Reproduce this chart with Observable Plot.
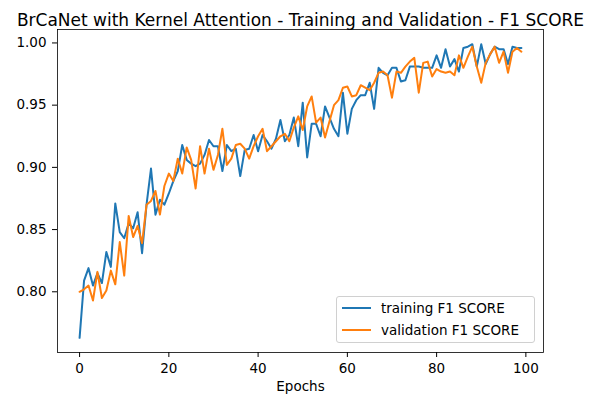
<!DOCTYPE html>
<html>
<head>
<meta charset="utf-8">
<script src="https://cdn.jsdelivr.net/npm/d3@7"></script>
<script src="https://cdn.jsdelivr.net/npm/@observablehq/plot@0.6"></script>
<style>
  html, body { margin: 0; padding: 0; background: #fff; }
  #wrap { position: relative; width: 591px; height: 402px; overflow: hidden; font-family: "DejaVu Sans", sans-serif; }
  #legend { position: absolute; left: 336px; top: 296px; width: 199px; height: 47px; box-sizing: border-box;
    border: 1px solid #d0d0d0; border-radius: 3px; background: rgba(255,255,255,0.8); }
  .entry { position: absolute; left: 0; height: 20px; font-size: 13.5px; color: #000; white-space: nowrap; }
  .entry .sw { position: absolute; left: 5px; top: 9px; width: 29px; height: 2px; }
  .entry .lb { position: absolute; left: 44px; top: 1px; line-height: 18px; }
</style>
</head>
<body>
<div id="wrap"></div>
<script>
const title = "BrCaNet with Kernel Attention - Training and Validation - F1 SCORE";
const xLabel = "Epochs";
const seriesNames = ["training F1 SCORE", "validation F1 SCORE"];
const seriesColors = ["#1f77b4", "#ff7f0e"];
const xTicks = [0, 20, 40, 60, 80, 100];
const yTicks = [0.80, 0.85, 0.90, 0.95, 1.00];

const training = [
  0.763, 0.809, 0.819, 0.805, 0.815, 0.807, 0.832, 0.820, 0.871, 0.848,
  0.843, 0.855, 0.851, 0.864, 0.831, 0.870, 0.899, 0.862, 0.874, 0.870,
  0.879, 0.889, 0.897, 0.918, 0.906, 0.903, 0.901, 0.903, 0.910, 0.922,
  0.917, 0.917, 0.897, 0.918, 0.913, 0.915, 0.893, 0.914, 0.915, 0.926,
  0.913, 0.926, 0.921, 0.915, 0.923, 0.938, 0.921, 0.926, 0.940, 0.917,
  0.952, 0.908, 0.935, 0.935, 0.925, 0.949, 0.940, 0.931, 0.925, 0.960,
  0.927, 0.947, 0.954, 0.958, 0.958, 0.968, 0.947, 0.980, 0.976, 0.974,
  0.980, 0.980, 0.969, 0.970, 0.981, 0.981, 0.981, 0.980, 0.980, 0.980,
  0.990, 0.980, 0.995, 0.981, 0.987, 0.977, 0.996, 0.997, 0.999, 0.981,
  0.999, 0.983, 0.991, 0.997, 0.995, 0.995, 0.983, 0.997, 0.996, 0.996
];
const validation = [
  0.800, 0.802, 0.805, 0.793, 0.816, 0.795, 0.801, 0.817, 0.806, 0.840,
  0.813, 0.861, 0.844, 0.853, 0.839, 0.870, 0.873, 0.881, 0.862, 0.885,
  0.895, 0.889, 0.907, 0.895, 0.916, 0.906, 0.883, 0.917, 0.895, 0.915,
  0.898, 0.910, 0.931, 0.902, 0.907, 0.918, 0.919, 0.915, 0.907, 0.917,
  0.925, 0.931, 0.913, 0.917, 0.921, 0.925, 0.927, 0.921, 0.932, 0.941,
  0.930, 0.949, 0.957, 0.936, 0.940, 0.924, 0.937, 0.950, 0.954, 0.964,
  0.965, 0.957, 0.958, 0.966, 0.964, 0.962, 0.968, 0.976, 0.977, 0.974,
  0.956, 0.977, 0.976, 0.981, 0.985, 0.988, 0.960, 0.984, 0.985, 0.973,
  0.979, 0.977, 0.976, 0.977, 0.974, 0.990, 0.980, 0.989, 0.997, 0.981,
  0.968, 0.984, 0.991, 0.997, 0.984, 0.993, 0.976, 0.993, 0.996, 0.993
];

const xMin = 0, xMax = training.length - 1;
const xPad = (xMax - xMin) * 0.05;
const allY = training.concat(validation);
const yMin = d3.min(allY), yMax = d3.max(allY);
const yPad = (yMax - yMin) * 0.05;

const chart = Plot.plot({
  width: 591,
  height: 402,
  marginLeft: 57,
  marginRight: 48,
  marginTop: 29,
  marginBottom: 50,
  style: { fontFamily: "DejaVu Sans", fontSize: "13.5px", color: "#000", background: "#fff", overflow: "visible" },
  x: { domain: [xMin - xPad, xMax + xPad] },
  y: { domain: [yMin - yPad, yMax + yPad] },
  marks: [
    Plot.line(training, { x: (d, i) => i, y: d => d, stroke: seriesColors[0], strokeWidth: 2 }),
    Plot.line(validation, { x: (d, i) => i, y: d => d, stroke: seriesColors[1], strokeWidth: 2 }),
    Plot.frame({ stroke: "#000", strokeWidth: 0.8 }),
    Plot.axisX({ ticks: xTicks, tickSize: 5, tickPadding: 6, label: null, tickFormat: d3.format("d") }),
    Plot.axisY({ ticks: yTicks, tickSize: 5, tickPadding: 6, label: null, tickFormat: d3.format(".2f") }),
    Plot.text([title], { text: d => d, frameAnchor: "top", dy: -16, fontSize: 17 }),
    Plot.text([xLabel], { text: d => d, frameAnchor: "bottom", dy: 38, fontSize: 13.5 })
  ]
});

const wrap = document.getElementById("wrap");
wrap.appendChild(chart);

const legend = document.createElement("div");
legend.id = "legend";
seriesNames.forEach((name, k) => {
  const e = document.createElement("div");
  e.className = "entry";
  e.style.top = (1 + k * 22) + "px";
  const sw = document.createElement("div");
  sw.className = "sw";
  sw.style.background = seriesColors[k];
  const lb = document.createElement("div");
  lb.className = "lb";
  lb.textContent = name;
  e.appendChild(sw);
  e.appendChild(lb);
  legend.appendChild(e);
});
wrap.appendChild(legend);
</script>
</body>
</html>
